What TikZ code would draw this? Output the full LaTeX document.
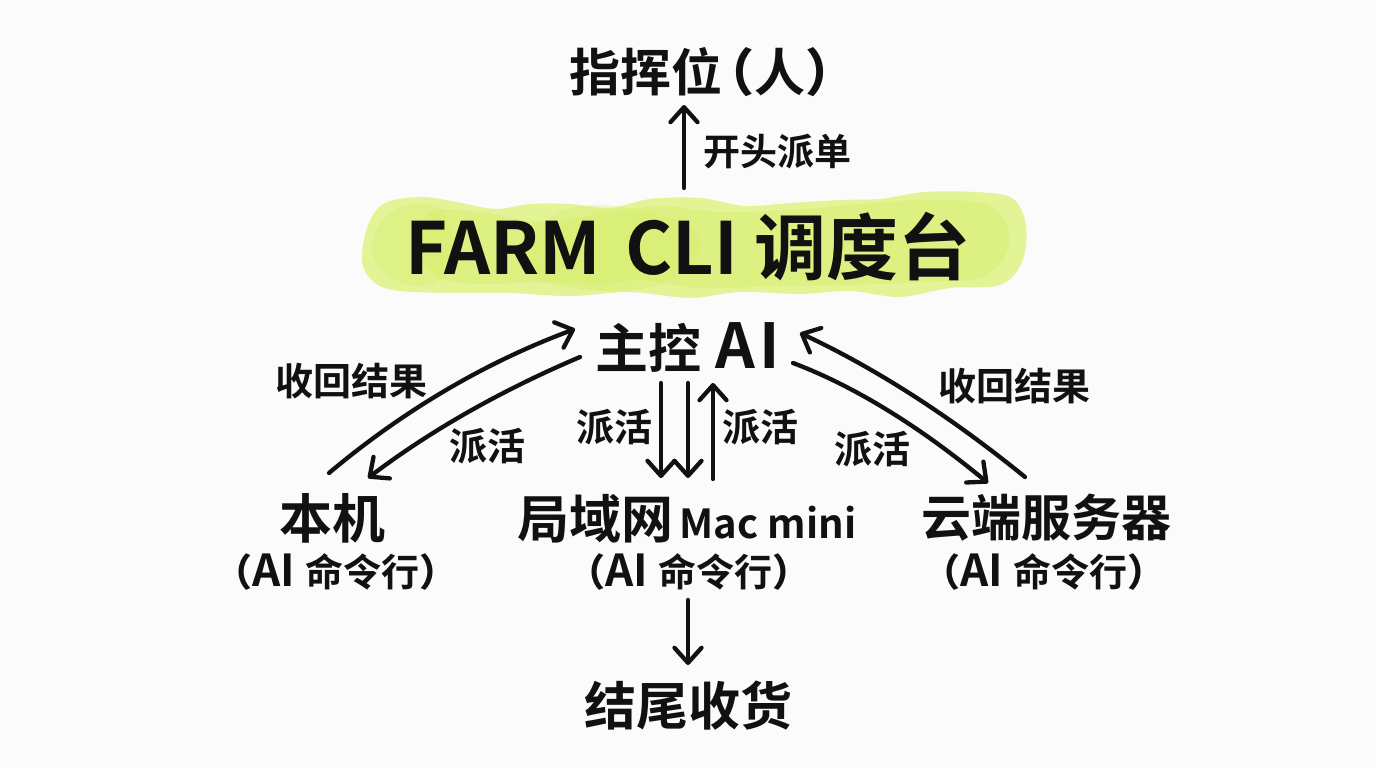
\documentclass[tikz,border=0pt]{standalone}
\usepackage{fontspec}
\setmainfont{Noto Sans CJK SC}[BoldFont=* Bold]
\newfontfamily\parenfont[RawFeature=+halt]{Noto Sans CJK SC Bold}
\usetikzlibrary{arrows.meta}
\definecolor{paper}{HTML}{FBFBFB}
\definecolor{hlbase}{HTML}{E2F496}
\definecolor{hlmid}{HTML}{D4ED62}
\definecolor{ink}{HTML}{111111}
\newcommand{\lp}{{\parenfont （}}
\newcommand{\rp}{{\parenfont ）}}
\newcommand{\aicli}{{\fontsize{38}{38}\selectfont\lp{\fontsize{44}{44}\selectfont AI}\hspace{10pt}命令行\rp}}
\tikzset{
  txt/.style={inner sep=0pt,outer sep=0pt,text=ink,font=\bfseries\fontsize{#1}{#1}\selectfont},
  arr/.style={draw=ink,line width=4.3pt,line cap=round,line join=round,-{Straight Barb[length=15pt,width=27pt,round]}},
  blob/.style={line join=round},
}
\begin{document}
\begin{tikzpicture}[x=1pt,y=-1pt]
\useasboundingbox (0,0) rectangle (1376,768);
\fill[paper] (0,0) rectangle (1376,768);
% highlighter band
\fill[hlbase,blob] plot[smooth cycle,tension=.55] coordinates {
 (362,262)(368,225)(385,203)(420,197)(452,201)(495,209)(530,204)(570,204)(610,208)(650,199)(700,198)(745,206)(790,203)(840,200)(880,199)(925,192)(975,192)(1012,198)(1026,225)(1022,262)(1000,285)(950,288)(900,297)(850,291)(800,294)(740,292)(690,298)(630,292)(570,296)(510,293)(455,293)(400,291)(375,283)};
\fill[hlmid,opacity=.4,blob] plot[smooth cycle,tension=.6] coordinates {
 (420,245)(432,212)(480,212)(540,222)(600,214)(660,206)(720,212)(790,210)(860,204)(930,200)(990,206)(1010,240)(985,276)(920,282)(850,285)(780,286)(700,288)(640,280)(600,285)(540,282)(480,284)(435,275)};
\fill[hlmid,opacity=.3,blob] plot[smooth cycle,tension=.7] coordinates {
 (372,250)(395,210)(440,208)(452,245)(440,280)(400,282)};
\fill[hlmid,opacity=.3,blob] plot[smooth cycle,tension=.7] coordinates {
 (520,262)(560,212)(640,210)(700,240)(660,284)(570,288)};
% labels
\node[txt=51] (cmd) at (700,72) {指挥位\hspace{6pt}\lp 人\rp};
\node[txt=37] (open) at (777,152) {开头派单};
\node[txt=72] (farm) at (688,247) {FARM\hspace{.12em} CLI 调度台};
\node[txt=53] (zk) at (688,347) {主控\hspace{14pt}{\fontsize{62}{62}\selectfont A\kern4pt I}};
\node[txt=38] (lbackL) at (351,381) {收回结果};
\node[txt=38] (lsendL) at (487,446) {派活};
\node[txt=38] (lsendC) at (614,427) {派活};
\node[txt=38] (lsendD) at (760,427) {派活};
\node[txt=38] (lsendR) at (872,449) {派活};
\node[txt=38] (lbackR) at (1014,386) {收回结果};
\node[txt=53] (bj) at (332,518) {本机};
\node[txt=36] (bjs) at (336,572) {\aicli};
\node[txt=52] (lan) at (687,519) {局域网\hspace{6pt}{\fontsize{40}{40}\selectfont Mac mini}};
\node[txt=36] (lans) at (689,572) {\aicli};
\node[txt=50] (cloud) at (1046,518) {云端服务器};
\node[txt=36] (clouds) at (1044,572) {\aicli};
\node[txt=52] (end) at (688,706) {结尾收货};
% connectors
\draw[arr] ([shift={(-4,-59)}]farm.center) -- ([shift={(-16,33)}]cmd.center);
\draw[arr] ([shift={(-3,-45)}]bj.center) .. controls (404,410) and (486,362) .. ([shift={(-113,-18)}]zk.center);
\draw[arr] ([shift={(-108,10)}]zk.center) .. controls (500,391) and (430,431) .. ([shift={(36,-40)}]bj.center);
\draw[arr] ([shift={(-27,36)}]zk.center) -- ([shift={(-26,-41)}]lan.center);
\draw[arr] (zk.center |- 0,383) -- ([shift={(1,-41)}]lan.center);
\draw[arr] ([shift={(26,-40)}]lan.center) -- ([shift={(25,36)}]zk.center);
\draw[arr] ([shift={(105,16)}]zk.center) .. controls (854,386) and (919,426) .. ([shift={(-58,-35)}]cloud.center);
\draw[arr] ([shift={(-21,-41)}]cloud.center) .. controls (950,416) and (875,368) .. ([shift={(112,-14)}]zk.center);
\draw[arr] ([shift={(-1,28)}]lans.center) -- ([shift={(0,-41)}]end.center);
\end{tikzpicture}
\end{document}
